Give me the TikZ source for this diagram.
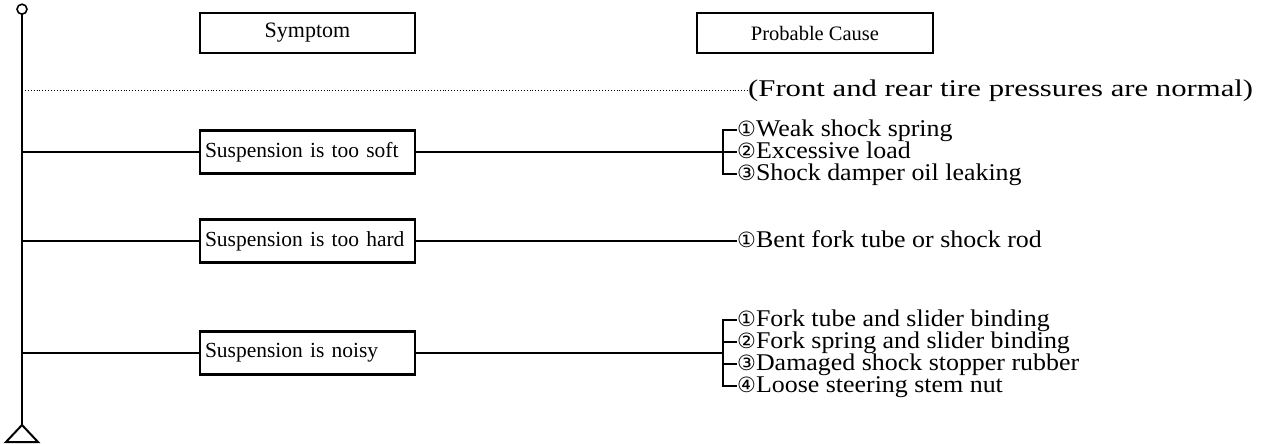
\documentclass[tikz,border=0pt]{standalone}
\usepackage{fontspec}
\setmainfont{Liberation Serif}
\newfontfamily\widefont[FakeStretch=1.08]{Liberation Serif}
\newfontfamily\notefont[FakeStretch=1.28]{Liberation Serif}
\newfontfamily\circfont{DejaVu Sans}
\usetikzlibrary{positioning}
\newcommand{\cnum}[1]{{\circfont\fontsize{21}{21}\selectfont #1}}

\begin{document}
\begin{tikzpicture}[x=1pt,y=-1pt]
  \tikzstyle{box}=[draw,line width=2.2pt,minimum width=215pt,minimum height=40pt,inner sep=0pt,font=\fontsize{22}{22}\selectfont]
  \tikzstyle{rowbox}=[box,minimum height=43pt,text width=205pt,align=left,inner xsep=5pt,font=\fontsize{21.5}{22}\selectfont]
  \tikzstyle{cause}=[anchor=west,inner sep=0pt,text height=17pt,text depth=5pt,font=\widefont\fontsize{24}{22}\selectfont]
  \tikzstyle{link}=[line width=2pt]

  \useasboundingbox (0,0) rectangle (1269,444);

  % CONSTANTS
  \def\trunk{22}
  \def\bx{307.5}
  \def\brk{723}
  \def\cx{737}

  % Headers
  \node[box] (symptom) at (\bx,33) {Symptom};
  \node[box,minimum width=236pt,font=\fontsize{20.5}{22}\selectfont] (probable) at (815,33) {Probable Cause};

  % Trunk
  \coordinate (top) at (\trunk,15);
  \coordinate (bot) at (\trunk,425);
  \node[circle,draw,line width=1.6pt,minimum size=10pt,inner sep=0pt,anchor=south] (ring) at (top) {};
  \draw[link] (ring.south) -- (bot);
  \draw[link,fill=white] (bot) -- ++(-16,17) -- ++(32,0) -- cycle;

  % Note
  \node[cause,font=\notefont\fontsize{24}{22}\selectfont] (note) at (748,90) {(Front and rear tire pressures are normal)};
  \coordinate (t0) at (\trunk,90);
  \draw[dotted,line width=0.9pt] (t0) -- (note.west);

  % Too soft
  \coordinate (t1) at (\trunk,152);
  \coordinate (j1) at (\brk,152);
  \node[rowbox] (soft) at (\bx,152) {Suspension is too soft};
  \node[cause] (soft1) at (\cx,130) {\cnum{①}Weak shock spring};
  \node[cause] (soft2) at (\cx,152) {\cnum{②}Excessive load};
  \node[cause] (soft3) at (\cx,174) {\cnum{③}Shock damper oil leaking};
  \draw[link] (t1) -- (soft.west);
  \draw[link] (soft.east) -- (soft2.west);
  \draw[link] (soft1.west) -| (j1) |- (soft3.west);

  % Too hard
  \coordinate (t2) at (\trunk,241);
  \node[rowbox] (hard) at (\bx,241) {Suspension is too hard};
  \node[cause] (hard1) at (\cx,241) {\cnum{①}Bent fork tube or shock rod};
  \draw[link] (t2) -- (hard.west);
  \draw[link] (hard.east) -- (hard1.west);

  % Noisy
  \coordinate (t3) at (\trunk,353);
  \coordinate (j3) at (\brk,353);
  \node[rowbox] (noisy) at (\bx,353) {Suspension is noisy};
  \node[cause] (noisy1) at (\cx,320) {\cnum{①}Fork tube and slider binding};
  \node[cause] (noisy2) at (\cx,342) {\cnum{②}Fork spring and slider binding};
  \node[cause] (noisy3) at (\cx,364) {\cnum{③}Damaged shock stopper rubber};
  \node[cause] (noisy4) at (\cx,386) {\cnum{④}Loose steering stem nut};
  \draw[link] (t3) -- (noisy.west);
  \draw[link] (noisy.east) -- (j3);
  \draw[link] (noisy1.west) -| (j3) |- (noisy4.west);
  \draw[link] (noisy2.west) -- (noisy2.west -| j3);
  \draw[link] (noisy3.west) -- (noisy3.west -| j3);

\end{tikzpicture}
\end{document}
